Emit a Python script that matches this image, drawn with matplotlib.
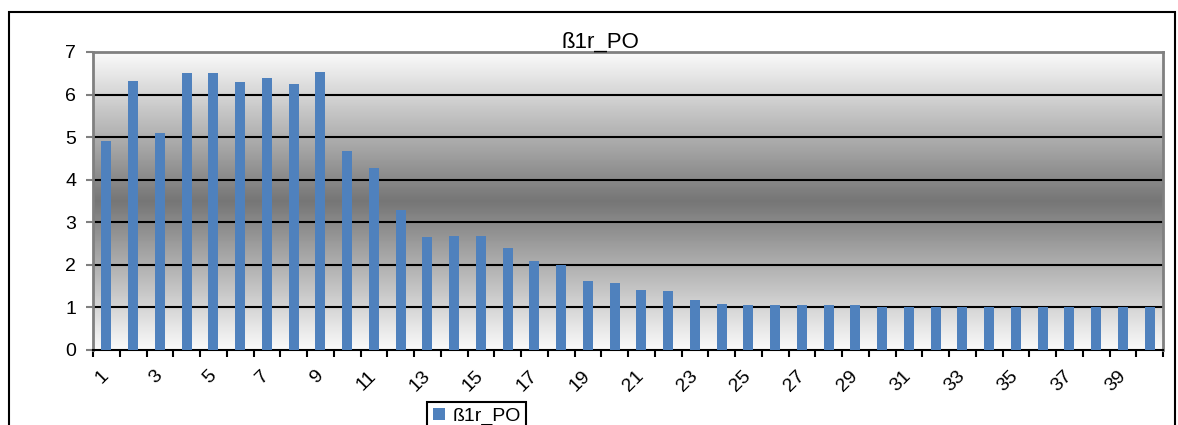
# Grafico de barras b1r_PO
import numpy as np
import matplotlib
matplotlib.use("Agg")
import matplotlib.pyplot as plt
from matplotlib.patches import Rectangle, Patch
from matplotlib.colors import LinearSegmentedColormap

plt.rcParams['font.family'] = ['Liberation Sans', 'DejaVu Sans']

serie = "ß1r_PO"
categorias = list(range(1, 41))
valores = [4.91, 6.32, 5.09, 6.51, 6.51, 6.29, 6.38, 6.25, 6.54, 4.67,
           4.28, 3.30, 2.65, 2.68, 2.68, 2.39, 2.09, 1.99, 1.63, 1.57,
           1.41, 1.38, 1.18, 1.08, 1.06, 1.06, 1.06, 1.06, 1.06, 1.02,
           1.02, 1.02, 1.02, 1.02, 1.02, 1.02, 1.02, 1.02, 1.02, 1.02]
etiquetas_y = [0, 1, 2, 3, 4, 5, 6, 7]

W, H = 1178, 425
fig = plt.figure(figsize=(W / 100, H / 100), dpi=100)
ax = fig.add_axes([93 / W, 1 - 350 / H, (1163 - 93) / W, (350 - 52) / H])

# fondo degradado blanco - gris - blanco
cmap = LinearSegmentedColormap.from_list("fondo", ["#fafafa", "#767676", "#fafafa"])
grad = np.linspace(0, 1, 300).reshape(-1, 1)
ax.imshow(grad, cmap=cmap, aspect="auto", extent=(0, 1, 0, 1),
          transform=ax.transAxes, zorder=0, interpolation="bilinear")

x = np.arange(len(categorias))
ax.bar(x, valores, width=0.38, color="#4f81bd", zorder=3, label=serie)

ax.set_xlim(-0.5, len(categorias) - 0.5)
ax.set_ylim(0, 7)

# lineas de cuadricula
for v in etiquetas_y[1:-1]:
    ax.axhline(v, color="black", lw=1.5, zorder=2)

ax.set_yticks(etiquetas_y)
ax.set_yticklabels([str(v) for v in etiquetas_y], fontsize=14)
ax.tick_params(axis="y", length=5, width=1.5, color="#808080", pad=7)

ax.set_xticks(np.arange(-0.5, len(categorias)), labels=[])
ax.tick_params(axis="x", which="major", length=5, width=1.5, color="black")
ax.set_xticks(x[::2], minor=True)
ax.set_xticklabels([str(c) for c in categorias[::2]], minor=True,
                   rotation=45, ha="right", va="center",
                   rotation_mode="anchor", fontsize=14)
ax.tick_params(axis="x", which="minor", length=0, pad=17)

for lado in ["left", "top", "right"]:
    ax.spines[lado].set_color("#808080")
    ax.spines[lado].set_linewidth(2)
ax.spines["bottom"].set_color("black")
ax.spines["bottom"].set_linewidth(1.5)

fig.text(600 / W, 1 - 48 / H, serie, ha="center", va="baseline", fontsize=16)

h = Patch(facecolor="#4f81bd", edgecolor="none")
leg = fig.legend([h], [serie], loc="upper left",
                 bbox_to_anchor=(427 / W, 1 - 402 / H), fontsize=14,
                 handlelength=0.6, handleheight=0.6, handletextpad=0.4,
                 borderaxespad=0, fancybox=False, framealpha=1,
                 borderpad=0.3)
leg.get_frame().set_edgecolor("black")
leg.get_frame().set_linewidth(1.5)

# marco exterior
fig.patches.append(Rectangle((9 / W, -0.1), (1175 - 9) / W, 1.1 - 12 / H,
                             transform=fig.transFigure, fill=False,
                             ec="black", lw=1.5))

fig.savefig("out.png", dpi=100)
